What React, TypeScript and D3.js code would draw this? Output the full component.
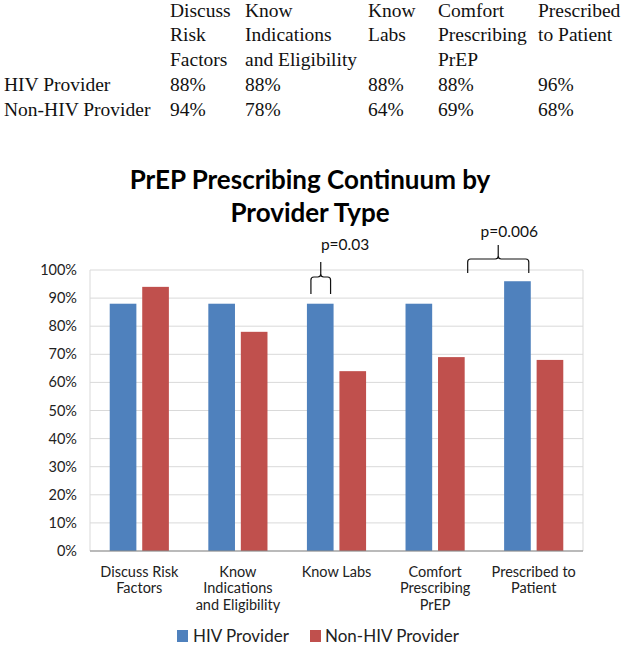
import React from "react";
import * as d3 from "d3";

const categories = [
  "Discuss Risk Factors",
  "Know Indications and Eligibility",
  "Know Labs",
  "Comfort Prescribing PrEP",
  "Prescribed to Patient",
];
const axisLabelLines = [
  ["Discuss Risk", "Factors"],
  ["Know", "Indications", "and Eligibility"],
  ["Know Labs"],
  ["Comfort", "Prescribing", "PrEP"],
  ["Prescribed to", "Patient"],
];
const tableHeaderLines = [
  ["Discuss", "Risk", "Factors"],
  ["Know", "Indications", "and Eligibility"],
  ["Know", "Labs"],
  ["Comfort", "Prescribing", "PrEP"],
  ["Prescribed", "to Patient"],
];
const seriesNames = ["HIV Provider", "Non-HIV Provider"];
const hivValues = [0.88, 0.88, 0.88, 0.88, 0.96];
const nonHivValues = [0.94, 0.78, 0.64, 0.69, 0.68];
const yTicks = [0, 0.1, 0.2, 0.3, 0.4, 0.5, 0.6, 0.7, 0.8, 0.9, 1.0];
const titleLines = ["PrEP Prescribing Continuum by", "Provider Type"];
const pLabels = ["p=0.03", "p=0.006"];

const colors = ["#4F81BD", "#C0504D"];
const W = 626;
const H = 646;
const sans = "Lato, 'Open Sans', sans-serif";
const serif = "'Liberation Serif', 'Times New Roman', serif";

export default function App() {
  const plot = { left: 90, right: 583, top: 270, bottom: 551 };
  const x = d3
    .scaleBand<string>()
    .domain(categories)
    .range([plot.left, plot.right])
    .paddingInner(0.4)
    .paddingOuter(0.2);
  const xs = d3
    .scaleBand<string>()
    .domain(seriesNames)
    .range([0, x.bandwidth()])
    .paddingInner(0.18);
  const y = d3.scaleLinear().domain([0, 1]).range([plot.bottom, plot.top]);
  const pct = d3.format(".0%");
  const series = [hivValues, nonHivValues];
  const bw = xs.bandwidth();
  const center = (c: string) => (x(c) as number) + x.bandwidth() / 2;

  const tableCols = [170, 245, 368, 438, 538];
  const tableBase = 16.5;
  const tableStep = 24.6;

  const brace = (x1: number, x2: number, yTop: number, yMid: number, yBot: number) => {
    const xm = (x1 + x2) / 2;
    const r = 3;
    return `M${x1},${yBot} L${x1},${yMid + r} Q${x1},${yMid} ${x1 + r},${yMid} L${xm - r},${yMid} Q${xm},${yMid} ${xm},${yMid - r} L${xm},${yTop} M${xm},${yMid - r} Q${xm},${yMid} ${xm + r},${yMid} L${x2 - r},${yMid} Q${x2},${yMid} ${x2},${yMid + r} L${x2},${yBot}`;
  };

  const labsHivX = (x(categories[2]) as number) + (xs(seriesNames[0]) as number);
  const b1x1 = labsHivX + 4;
  const b1x2 = labsHivX + bw - 3;
  const comfNonX = (x(categories[3]) as number) + (xs(seriesNames[1]) as number) + bw + 3;
  const prescHivX = (x(categories[4]) as number) + (xs(seriesNames[0]) as number) + bw - 2;

  return (
    <svg width={W} height={H} style={{ position: "absolute", left: 0, top: 0, background: "#fff" }}>
      <rect width={W} height={H} fill="#fff" />
      {/* Table */}
      <g fontFamily={serif} fontSize={19.5} fill="#111">
        {tableHeaderLines.map((lines, i) =>
          lines.map((l, j) => (
            <text key={`h${i}-${j}`} x={tableCols[i]} y={tableBase + j * tableStep}>
              {l}
            </text>
          ))
        )}
        {seriesNames.map((s, r) => (
          <g key={s}>
            <text x={4} y={tableBase + (3 + r) * tableStep + 1}>
              {s}
            </text>
            {series[r].map((v, i) => (
              <text key={i} x={tableCols[i]} y={tableBase + (3 + r) * tableStep + 1}>
                {pct(v)}
              </text>
            ))}
          </g>
        ))}
      </g>

      {/* Title */}
      <g fontFamily={sans} fontWeight="bold" fontSize={26} fill="#000" textAnchor="middle">
        {titleLines.map((t, i) => (
          <text key={i} x={310} y={189 + i * 33}>
            {t}
          </text>
        ))}
      </g>

      {/* Gridlines */}
      {yTicks.map((t) => (
        <line key={t} x1={plot.left} x2={plot.right} y1={y(t)} y2={y(t)} stroke="#d9d9d9" strokeWidth={1} />
      ))}
      <line x1={plot.left} x2={plot.left} y1={plot.top} y2={plot.bottom} stroke="#d9d9d9" />
      <line x1={plot.right} x2={plot.right} y1={plot.top} y2={plot.bottom} stroke="#d9d9d9" />

      {/* Bars */}
      {series.map((vals, si) =>
        vals.map((v, ci) => (
          <rect
            key={`${si}-${ci}`}
            x={(x(categories[ci]) as number) + (xs(seriesNames[si]) as number)}
            y={y(v)}
            width={bw}
            height={y(0) - y(v)}
            fill={colors[si]}
          />
        ))
      )}
      <line x1={plot.left} x2={plot.right} y1={plot.bottom} y2={plot.bottom} stroke="#888" strokeWidth={1} />

      {/* Y axis labels */}
      <g fontFamily={sans} fontSize={14.5} fill="#222" textAnchor="end">
        {yTicks.map((t) => (
          <text key={t} x={77} y={y(t) + 5}>
            {pct(t)}
          </text>
        ))}
      </g>

      {/* X axis labels */}
      <g fontFamily={sans} fontSize={14.5} fill="#222" textAnchor="middle">
        {axisLabelLines.map((lines, i) =>
          lines.map((l, j) => (
            <text key={`${i}-${j}`} x={center(categories[i])} y={577 + j * 16.3}>
              {l}
            </text>
          ))
        )}
      </g>

      {/* Annotations */}
      <path d={brace(b1x1, b1x2, 262, 277, 294)} fill="none" stroke="#111" strokeWidth={1.2} />
      <path d={brace(comfNonX, prescHivX, 245, 259, 273)} fill="none" stroke="#111" strokeWidth={1.2} />
      <g fontFamily={sans} fontSize={15.5} fill="#111">
        <text x={b1x1 + 10} y={250}>
          {pLabels[0]}
        </text>
        <text x={(comfNonX + prescHivX) / 2 + 11} y={237} textAnchor="middle">
          {pLabels[1]}
        </text>
      </g>

      {/* Legend */}
      <g fontFamily={sans} fontSize={17} fill="#222">
        <rect x={177} y={630} width={11} height={12} fill={colors[0]} />
        <text x={193} y={642}>
          {seriesNames[0]}
        </text>
        <rect x={310} y={630} width={11} height={12} fill={colors[1]} />
        <text x={325} y={642}>
          {seriesNames[1]}
        </text>
      </g>
    </svg>
  );
}
